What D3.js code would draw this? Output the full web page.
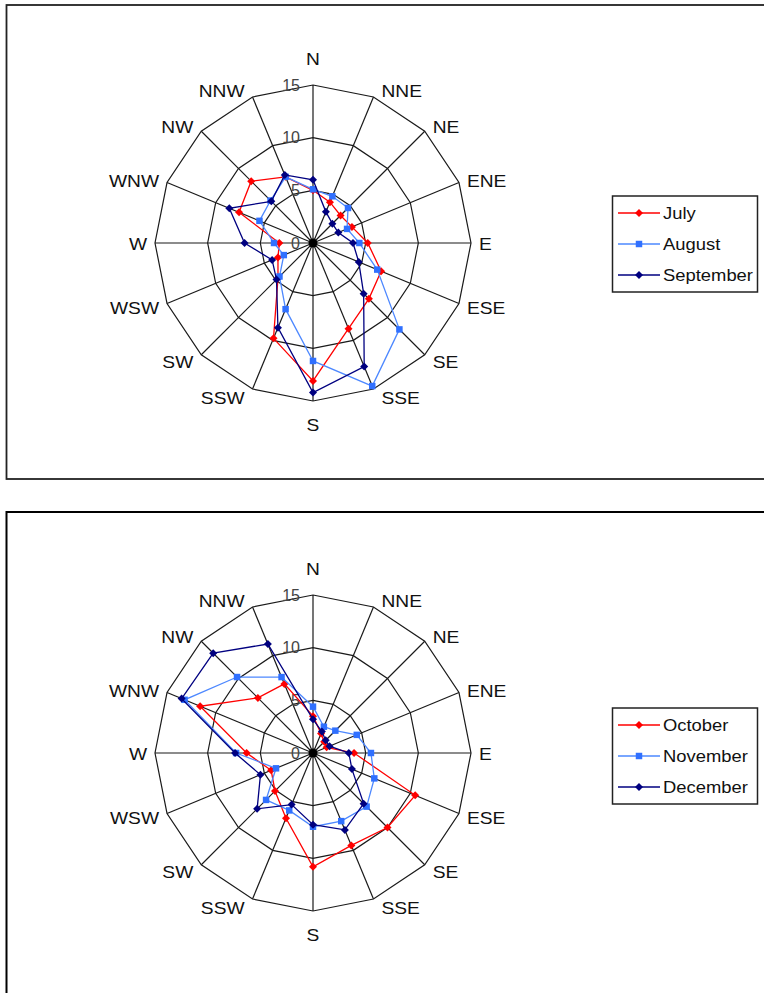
<!DOCTYPE html>
<html>
<head>
<meta charset="utf-8">
<script src="https://cdn.jsdelivr.net/npm/d3@7"></script>
<style>
  html, body { margin: 0; padding: 0; background: #fff; }
  svg { display: block; font-family: "Liberation Sans", Arial, sans-serif; }
</style>
</head>
<body>
<svg id="chart" width="764" height="993"></svg>
<script>
// ---- data ----
const directions = ["N","NNE","NE","ENE","E","ESE","SE","SSE","S","SSW","SW","WSW","W","WNW","NW","NNW"];
const tickValues = [0, 5, 10, 15];
const tickLabels = ["0", "5", "10", "15"];

const july      = [5.0, 4.2, 3.7, 4.0, 5.2, 7.0, 7.5, 8.8, 13.1, 9.8, 4.7, 3.6, 3.2, 7.6, 8.3, 6.8];
const august    = [5.1, 4.8, 4.7, 3.5, 4.4, 6.6, 11.6, 14.7, 11.2, 6.8, 4.5, 3.0, 3.7, 5.5, 5.7, 6.8];
const september = [6.0, 3.2, 2.6, 2.6, 3.8, 4.7, 6.8, 12.7, 14.2, 8.7, 4.9, 4.2, 6.5, 8.6, 5.6, 7.0];

const october   = [3.5, 2.0, 1.5, 1.4, 3.9, 10.5, 10.0, 9.5, 10.8, 6.7, 5.1, 4.3, 6.3, 11.6, 7.4, 7.1];
const november  = [4.4, 2.7, 3.0, 4.5, 5.5, 6.3, 7.2, 7.0, 7.0, 5.9, 6.3, 3.8, 7.3, 13.2, 10.2, 7.8];
const december  = [3.2, 2.2, 1.7, 1.7, 3.4, 4.0, 6.8, 7.9, 6.8, 5.3, 7.5, 5.4, 7.4, 13.5, 13.4, 11.2];

const chart1Names = ["July", "August", "September"];
const chart2Names = ["October", "November", "December"];

// ---- styles ----
const seriesStyles = [
  { stroke: "#ff0000", fill: "#ff0000", marker: "diamond", width: 1.3 },
  { stroke: "#4d88ff", fill: "#3070ff", marker: "square", width: 1.3 },
  { stroke: "#000080", fill: "#000080", marker: "diamond", width: 1.3 }
];
const FS = 16, SX = 1.2;

const svg = d3.select("#chart");

// frames
svg.append("rect").attr("x", 6.5).attr("y", 5).attr("width", 820).attr("height", 474)
  .attr("fill", "none").attr("stroke", "#222").attr("stroke-width", 1.8);
svg.append("rect").attr("x", 6.5).attr("y", 512).attr("width", 820).attr("height", 600)
  .attr("fill", "none").attr("stroke", "#000").attr("stroke-width", 2);

const R = 158;
const r = d3.scaleLinear().domain([0, 15]).range([0, R]);
const step = 2 * Math.PI / directions.length;
const angle = i => i * step;

function markerPath(type) {
  if (type === "square") return d3.symbol().type(d3.symbolSquare).size(42)();
  return d3.symbol().type(d3.symbolSquare).size(32)();
}

function wideText(parent, x, y, str, anchor, sx) {
  return parent.append("text")
    .attr("transform", `translate(${x},${y}) scale(${sx},1)`)
    .attr("text-anchor", anchor).attr("dominant-baseline", "central")
    .attr("font-size", FS).attr("fill", "#111").text(str);
}

function drawRadar(cx, cy, seriesData, names, legendY) {
  const g = svg.append("g").attr("transform", `translate(${cx},${cy})`);

  // grid rings
  const ring = d3.lineRadial().angle((d, i) => angle(i)).radius(d => r(d)).curve(d3.curveLinearClosed);
  [5, 10, 15].forEach(lv => {
    g.append("path").attr("d", ring(directions.map(() => lv)))
      .attr("fill", "none").attr("stroke", "#1a1a1a").attr("stroke-width", 1.2);
  });
  // spokes
  directions.forEach((d, i) => {
    const a = angle(i);
    g.append("line").attr("x1", 0).attr("y1", 0)
      .attr("x2", r(15) * Math.sin(a)).attr("y2", -r(15) * Math.cos(a))
      .attr("stroke", "#1a1a1a").attr("stroke-width", 1.2);
  });
  g.append("circle").attr("r", 4.5).attr("fill", "#000");

  // tick labels on N axis
  tickValues.forEach((v, k) => {
    g.append("text").attr("x", -13).attr("y", -r(v))
      .attr("text-anchor", "end").attr("dominant-baseline", "central")
      .attr("font-size", FS).attr("fill", "#444").text(tickLabels[k]);
  });

  // direction labels
  directions.forEach((d, i) => {
    const a = angle(i);
    const vx = r(15) * Math.sin(a), vy = -r(15) * Math.cos(a);
    let x, y, anchor;
    if (d === "N") { x = 0; y = vy - 25; anchor = "middle"; }
    else if (d === "S") { x = 0; y = vy + 25; anchor = "middle"; }
    else {
      const right = Math.sin(a) > 0;
      x = vx + (right ? 8 : -8);
      y = vy + 8 * (-Math.cos(a)) + 2;
      anchor = right ? "start" : "end";
    }
    wideText(g, x, y, d, anchor, SX);
  });

  // series
  const line = d3.lineRadial().angle((d, i) => angle(i)).radius(d => r(d)).curve(d3.curveLinearClosed);
  seriesData.forEach((vals, s) => {
    const st = seriesStyles[s];
    g.append("path").attr("d", line(vals)).attr("fill", "none")
      .attr("stroke", st.stroke).attr("stroke-width", st.width);
    g.selectAll(null).data(vals).enter().append("path")
      .attr("d", markerPath(st.marker))
      .attr("transform", (v, i) => {
        const a = angle(i);
        const x = r(v) * Math.sin(a), y = -r(v) * Math.cos(a);
        return `translate(${x},${y})` + (st.marker === "diamond" ? " rotate(45)" : "");
      })
      .attr("fill", st.fill);
  });

  // legend
  const lg = svg.append("g");
  const boxTop = legendY - 17, rowGap = 31;
  lg.append("rect").attr("x", 612.5).attr("y", boxTop).attr("width", 145).attr("height", rowGap * 3 + 3)
    .attr("fill", "#fff").attr("stroke", "#222").attr("stroke-width", 1.5);
  names.forEach((n, s) => {
    const st = seriesStyles[s];
    const y = legendY + s * rowGap;
    lg.append("line").attr("x1", 618).attr("x2", 660).attr("y1", y).attr("y2", y)
      .attr("stroke", st.stroke).attr("stroke-width", st.width);
    lg.append("path").attr("d", markerPath(st.marker))
      .attr("transform", `translate(639,${y})` + (st.marker === "diamond" ? " rotate(45)" : ""))
      .attr("fill", st.fill);
    wideText(lg, 663, y, n, "start", 1.15);
  });
}

drawRadar(313, 243, [july, august, september], chart1Names, 213);
drawRadar(313, 753, [october, november, december], chart2Names, 725);
</script>
</body>
</html>
